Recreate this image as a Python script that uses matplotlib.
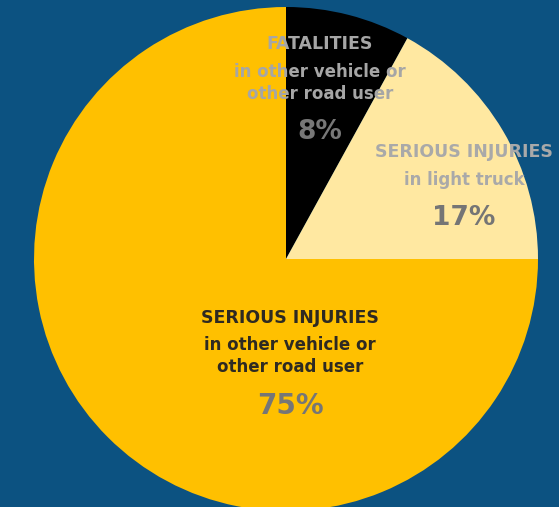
import matplotlib.pyplot as plt

# Share of fatalities / serious injuries by road user type
titles = ['FATALITIES', 'SERIOUS INJURIES', 'SERIOUS INJURIES']
subtitles = ['in other vehicle or\nother road user', 'in light truck', 'in other vehicle or\nother road user']
shares = [8, 17, 75]
colors = ['#000000', '#ffe8a1', '#ffc000']

bg = '#0c5281'
W, H = 559, 507

fig = plt.figure(figsize=(W / 100, H / 100), dpi=100, facecolor=bg)
ax = fig.add_axes([0, 0, 1, 1])
ax.set_facecolor(bg)

# pie center/radius in pixel units
cx, cy, r = 286, H - 259, 252
ax.pie(shares, colors=colors, startangle=90, counterclock=False,
       center=(cx, cy), radius=r, frame=True,
       wedgeprops=dict(linewidth=0))
ax.set_xlim(0, W)
ax.set_ylim(0, H)
ax.set_aspect('equal')
ax.axis('off')

font = ['DejaVu Sans']

# label layout: (x, title y, subtitle y, pct y), colours
layout = [
    (320, 44, 83, 132, '#a6a6a6', '#777777'),
    (464, 152, 180, 218, '#a9a9a9', '#757575'),
    (290, 318, 356, 406, '#2e2a22', '#767676'),
]
pct_sizes = [19, 19, 20]

for (x, ty, sy, py, lc, pc), t, s, v, ps in zip(layout, titles, subtitles, shares, pct_sizes):
    ax.text(x, H - ty, t, ha='center', va='center', fontsize=12.5,
            fontweight='bold', color=lc, family=font)
    ax.text(x, H - sy, s, ha='center', va='center', fontsize=12,
            fontweight='bold', color=lc, family=font, linespacing=1.35)
    ax.text(x, H - py, f'{v}%', ha='center', va='center', fontsize=ps,
            fontweight='bold', color=pc, family=font)

fig.savefig('out.png', dpi=100, facecolor=bg)
